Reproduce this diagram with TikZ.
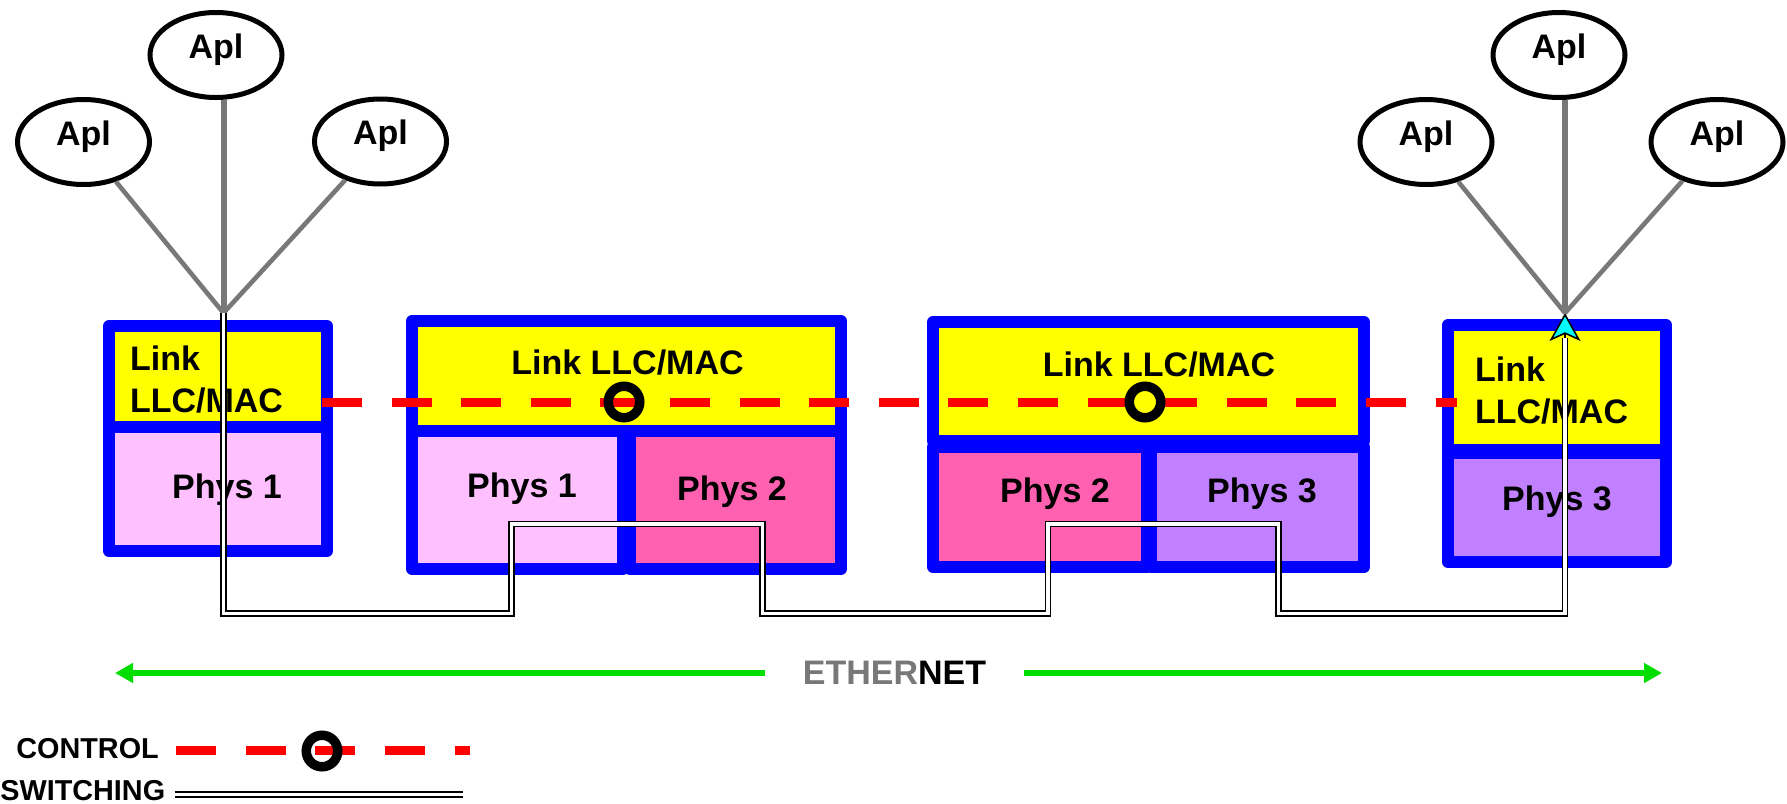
\documentclass[tikz,border=0pt]{standalone}
\usepackage{fontspec}
\setmainfont{Liberation Sans}
\usepackage{xcolor}
\usepackage{tikz}
\usetikzlibrary{arrows.meta,positioning,shapes.geometric,fit}
\definecolor{layerblue}{RGB}{0,0,255}
\definecolor{linkyellow}{RGB}{255,255,0}
\definecolor{physone}{RGB}{255,192,255}
\definecolor{phystwo}{RGB}{255,96,176}
\definecolor{physthree}{RGB}{192,128,255}
\definecolor{aplgray}{RGB}{120,120,120}
\definecolor{ethgreen}{RGB}{0,221,0}
\definecolor{ctrlred}{RGB}{255,0,0}
\definecolor{tipcyan}{RGB}{0,255,255}
\tikzset{
  every node/.style={font=\fontsize{17pt}{20.75pt}\bfseries},
  layer/.style={draw=layerblue, line width=6pt, line join=round, inner sep=0pt},
  linkbox/.style={layer, fill=linkyellow},
  physbox/.style={layer, fill=#1},
  apl/.style={draw, ellipse, line width=2.5pt, minimum width=66pt, minimum height=42.5pt, inner sep=0pt, text height=15.5pt, text depth=12.5pt},
  legend/.style={font=\fontsize{14.4pt}{17pt}\bfseries, inner sep=0pt}
}

\begin{document}
\begin{tikzpicture}[
    x=0.5pt, y=-0.5pt, % one unit per pixel of the sketch
    apllink/.style={draw=aplgray, line width=2.3pt},
    control/.style={draw=ctrlred, line width=4.5pt, dash pattern=on 20pt off 14.8pt},
    relay/.style={draw, circle, line width=4.75pt, minimum size=15.75pt, inner sep=0pt},
    switching/.style={draw=black, line width=0.85pt, double=white, double distance=1.65pt},
    switchtip/.style={draw=black, line width=0.8pt, -{Stealth[length=14pt, width=15.5pt, inset=3.5pt, fill=tipcyan]}},
    ether/.style={draw=ethgreen, line width=3pt, -{Triangle[length=9pt, width=9.5pt]}}
]
\useasboundingbox (0,0) rectangle (1787,803);

% Applications on the left station
\node[apl] (aplA1) at (83.5,142) {Apl};
\node[apl] (aplA2) at (216,55) {Apl};
\node[apl] (aplA3) at (380.5,141.5) {Apl};
\coordinate (apexA) at (223.5,313);
\draw[apllink] (aplA1) -- (apexA);
\draw[apllink, line width=3pt] (aplA2.south -| apexA) -- (apexA);
\draw[apllink] (aplA3) -- (apexA);

% Applications on the right station
\node[apl] (aplD1) at (1426,142) {Apl};
\node[apl] (aplD2) at (1559,55) {Apl};
\node[apl] (aplD3) at (1717,142) {Apl};
\coordinate (apexD) at (1565,313);
\draw[apllink] (aplD1) -- (apexD);
\draw[apllink, line width=3pt] (aplD2.south -| apexD) -- (apexD);
\draw[apllink] (aplD3) -- (apexD);

% Left station
\node[physbox=physone, fit={(109,427) (327,551)}] (physA) {};
\node[linkbox, fit={(109,326) (327,427)}] (linkA) {};
\node[align=left, anchor=base west] (txtLinkA) at (123,412) {Link\\LLC/MAC};
\node[anchor=base] (txtPhysA) at (227,498) {Phys 1};

% Bridge between Phys 1 and Phys 2
\node[physbox=physone, fit={(412,431) (623,569)}] (physB1) {};
\node[physbox=phystwo, fit={(630,431) (841,569)}] (physB2) {};
\node[linkbox, fit={(412,321) (841,431)}] (linkB) {};
\node[anchor=base] (txtLinkB) at (627.5,374) {Link LLC/MAC};
\node[anchor=base] (txtPhysB1) at (522,497) {Phys 1};
\node[anchor=base] (txtPhysB2) at (732,500) {Phys 2};

% Bridge between Phys 2 and Phys 3
\node[physbox=phystwo, fit={(933,447) (1147,567)}] (physC2) {};
\node[physbox=physthree, fit={(1151,447) (1364,567)}] (physC3) {};
\node[linkbox, fit={(933,322) (1364,441)}] (linkC) {};
\node[anchor=base] (txtLinkC) at (1159,376) {Link LLC/MAC};
\node[anchor=base] (txtPhysC2) at (1055,502) {Phys 2};
\node[anchor=base] (txtPhysC3) at (1262,502) {Phys 3};

% Right station
\node[physbox=physthree, fit={(1448,453) (1666,562)}] (physD) {};
\node[linkbox, fit={(1448,325) (1666,450)}] (linkD) {};
\node[align=left, anchor=base west] (txtLinkD) at (1468,423) {Link\\LLC/MAC};
\node[anchor=base] (txtPhysD) at (1557,510) {Phys 3};

% Control path through the link layers
\coordinate (ctrlA) at (322,402);
\coordinate (ctrlD) at (1457,402);
\draw[control] (ctrlA) -- (ctrlD);
\node[relay] (relayB) at (624,402) {};
\node[relay] (relayC) at (1145,402) {};

% Switching path through the physical layers
\coordinate (swB1) at (511.5,613.5);
\coordinate (swB2) at (762.5,524);
\coordinate (swC1) at (1048,613.5);
\coordinate (swC2) at (1278.5,524);
\coordinate (swD) at (1565,613.5);
\coordinate (swEnd) at (1565,338);
\draw[switching] (apexA) |- (swB1) |- (swB2) |- (swC1) |- (swC2) |- (swD) -- (swEnd);
\draw[switchtip] (swEnd) -- (apexD);

% Ethernet span
\node[inner xsep=18.5pt] (ethernet) at (894.5,673) {{\color{aplgray}ETHER}NET};
\coordinate (ethL) at (115,673);
\coordinate (ethR) at (1662,673);
\draw[ether] (ethernet.west) -- (ethL);
\draw[ether] (ethernet.east) -- (ethR);

% Legend
\node[legend, anchor=base west] (ctrlkey) at (16,758) {CONTROL};
\draw[control] ([xshift=8.5pt, yshift=4pt]ctrlkey.base east) -- ++(294,0);
\node[relay] (relaykey) at (322,751) {};
\node[legend, anchor=base west] (swkey) at (0,800) {SWITCHING};
\draw[switching] ([xshift=4.5pt, yshift=2.75pt]swkey.base east) -- ++(288,0);

\end{tikzpicture}
\end{document}
